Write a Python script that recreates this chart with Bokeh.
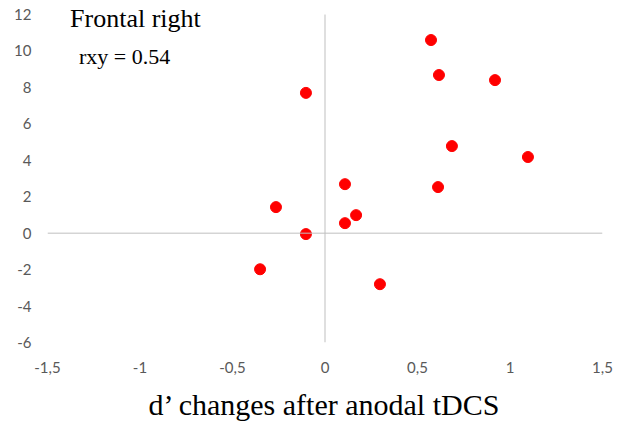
from bokeh.plotting import figure
from bokeh.models import FixedTicker, Span, Label
from bokeh.embed import file_html
from bokeh.resources import INLINE

# data (d' change, y value)
d_change = [0.573, 0.616, 0.919, -0.103, 0.686, 1.097, 0.108, 0.611, -0.265, 0.168, 0.108, -0.103, -0.351, 0.297]
y_vals = [10.6, 8.68, 8.4, 7.7, 4.78, 4.18, 2.69, 2.53, 1.43, 0.99, 0.55, -0.05, -1.98, -2.8]

x_ticks = [-1.5, -1.0, -0.5, 0.0, 0.5, 1.0, 1.5]
x_tick_labels = ["-1,5", "-1", "-0,5", "0", "0,5", "1", "1,5"]
y_ticks = [-6, -4, -2, 0, 2, 4, 6, 8, 10, 12]
y_tick_labels = ["-6", "-4", "-2", "0", "2", "4", "6", "8", "10", "12"]

y_min, y_max = y_ticks[0], y_ticks[-1]
top_pad = 0.77  # extra room above the top tick so the title is not clipped

p = figure(width=632, height=430, x_range=(x_ticks[0], x_ticks[-1]), y_range=(y_min, y_max + top_pad),
           output_backend="svg", toolbar_location=None,
           min_border_left=47, min_border_right=30, min_border_top=0, min_border_bottom=88)
p.outline_line_color = None
p.grid.visible = False
p.background_fill_color = "white"

p.add_layout(Span(location=0, dimension="width", line_color="#BFBFBF", line_width=1))
p.segment(x0=[0], y0=[y_min], x1=[0], y1=[y_max], line_color="#BFBFBF", line_width=1)

p.scatter(d_change, y_vals, size=11, fill_color="#FF0000", line_color="#FF0000")

for ax in (p.xaxis[0], p.yaxis[0]):
    ax.axis_line_color = None
    ax.major_tick_line_color = None
    ax.minor_tick_line_color = None
    ax.major_label_text_font = "Lato"
    ax.major_label_text_font_size = "15px"
    ax.major_label_text_color = "#595959"

p.yaxis.major_label_standoff = 10
p.xaxis.major_label_standoff = 13

p.xaxis.ticker = FixedTicker(ticks=x_ticks)
p.xaxis.major_label_overrides = {t: l for t, l in zip(x_ticks, x_tick_labels)}
p.yaxis.ticker = FixedTicker(ticks=y_ticks)
p.yaxis.major_label_overrides = {t: l for t, l in zip(y_ticks, y_tick_labels)}

p.xaxis.axis_label = "d\u2019 changes after anodal tDCS"
p.xaxis.axis_label_text_font = "Liberation Serif"
p.xaxis.axis_label_text_font_style = "normal"
p.xaxis.axis_label_text_font_size = "30px"
p.xaxis.axis_label_text_color = "#000000"
p.xaxis.axis_label_standoff = 12

p.add_layout(Label(x=-1.378, y=11.8, text="Frontal right", text_font="Liberation Serif",
                   text_font_size="26px", text_color="#000000", text_baseline="alphabetic"))
p.add_layout(Label(x=-1.33, y=9.67, text="rxy = 0.54", text_font="Liberation Serif",
                   text_font_size="22px", text_color="#000000", text_baseline="alphabetic"))

open("out.html", "w").write(file_html(p, INLINE))
